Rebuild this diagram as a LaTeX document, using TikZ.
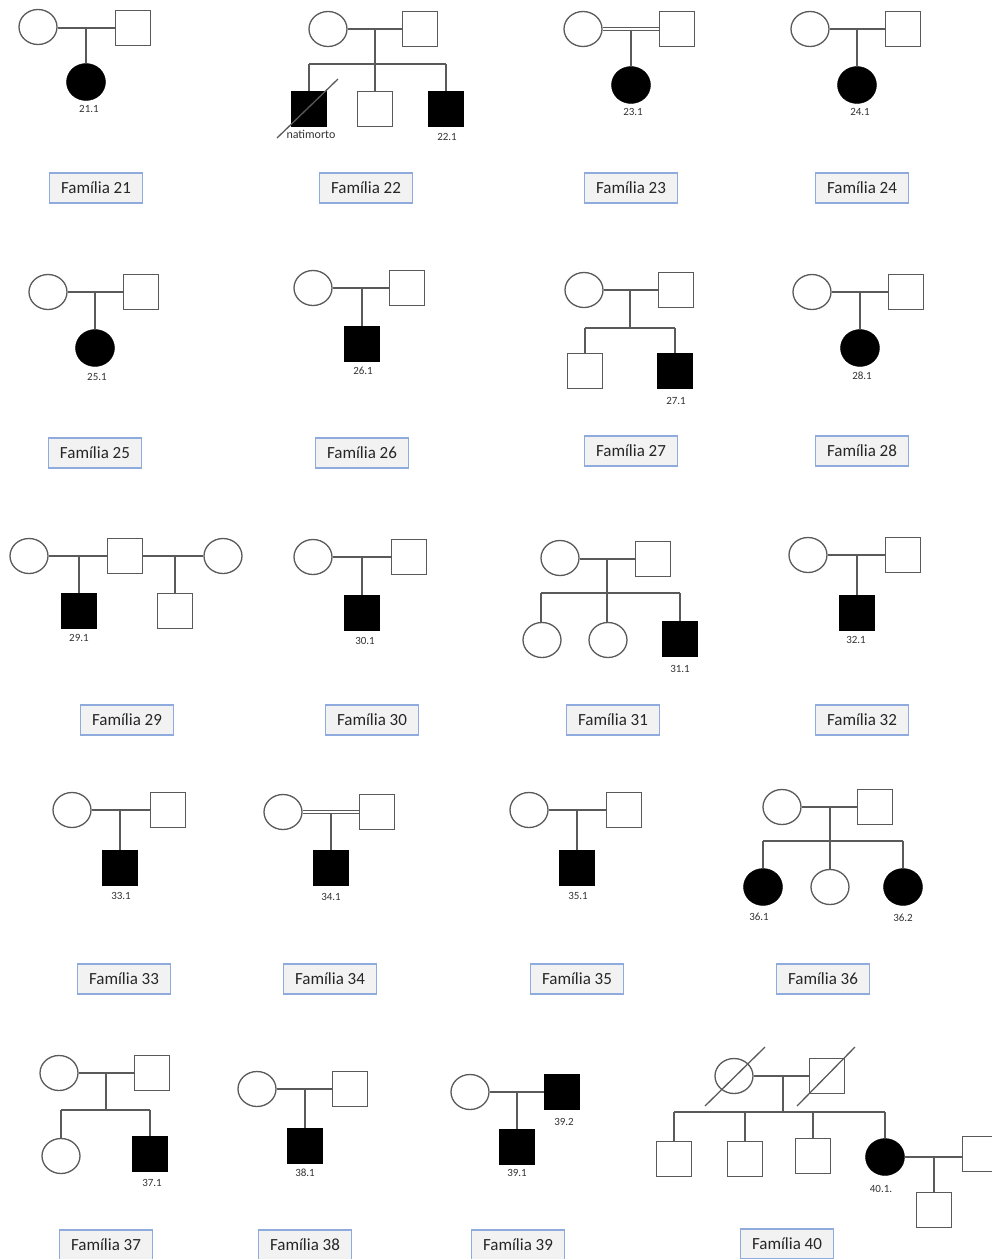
\documentclass[tikz,border=0pt]{standalone}
\usepackage{fontspec}
\setmainfont{Carlito}
\usetikzlibrary{shapes.geometric}
\definecolor{ln}{HTML}{5A5A5A}
\definecolor{bxb}{HTML}{8FAADC}
\definecolor{bxf}{HTML}{F2F2F2}
\begin{document}
\begin{tikzpicture}[x=1pt,y=-1pt,
 fem/.style={ellipse,draw=ln,line width=1.3pt,fill=white,minimum width=38pt,minimum height=35pt,inner sep=0pt},
 femA/.style={ellipse,draw=black,fill=black,minimum width=39pt,minimum height=37pt,inner sep=0pt},
 mal/.style={rectangle,draw=ln,line width=1.3pt,fill=white,minimum size=35pt,inner sep=0pt},
 malA/.style={rectangle,draw=black,fill=black,minimum size=35pt,inner sep=0pt},
 kin/.style={draw=ln,line width=1.3pt},
 kin2/.style={draw=ln,line width=1pt},
 num/.style={font=\fontsize{11}{12}\selectfont,text=black!80,inner sep=0pt},
 fam/.style={draw=bxb,line width=1.2pt,fill=bxf,minimum width=93pt,minimum height=30pt,inner sep=0pt,font=\fontsize{17}{20}\selectfont,text=black!85},
]
\clip (0,0) rectangle (992,1259);
\fill[white] (0,0) rectangle (992,1259);

% ---------- Familia 21
\node[fem] (f21a) at (38,27) {};
\node[mal] (f21b) at (133,28) {};
\coordinate (m21) at (86,28);
\node[femA] (f21c) at (86,82) {};
\node[num] (n21) at (89,109) {21.1};
\node[fam] (b21) at (96,188) {Família 21};
\draw[kin] (f21a.east |- f21b) -- (f21b);
\draw[kin] (m21) -- (f21c);

% ---------- Familia 22
\node[fem] (f22a) at (328,29) {};
\node[mal] (f22b) at (420,29) {};
\coordinate (m22) at (375,29);
\coordinate (s22) at (375,64);
\coordinate (s22l) at (309,64);
\coordinate (s22r) at (446,64);
\node[malA] (f22c) at (309,109) {};
\node[mal] (f22d) at (375,109) {};
\node[malA] (f22e) at (446,109) {};
\node[num,font=\fontsize{12}{13}\selectfont] (n22a) at (311,134) {natimorto};
\node[num] (n22b) at (447,137) {22.1};
\node[fam] (b22) at (366,188) {Família 22};
\draw[kin] (f22a) -- (f22b);
\draw[kin] (m22) -- (s22);
\draw[kin] (s22l) -- (s22r);
\draw[kin] (s22l) -- (f22c);
\draw[kin] (s22) -- (f22d);
\draw[kin] (s22r) -- (f22e);
\draw[kin] ([xshift=-32pt,yshift=-29pt]f22c.center) -- ([xshift=29pt,yshift=30pt]f22c.center);

% ---------- Familia 23
\node[fem] (f23a) at (583,29) {};
\node[mal] (f23b) at (677,29) {};
\coordinate (m23) at (631,30.7);
\node[femA] (f23c) at (631,85) {};
\node[num] (n23) at (633,112) {23.1};
\node[fam] (b23) at (631,188) {Família 23};
\draw[kin2] ([yshift=1.7pt]f23a.east) -- ([yshift=1.7pt]f23b.west);
\draw[kin2] ([yshift=-1.7pt]f23a.east) -- ([yshift=-1.7pt]f23b.west);
\draw[kin] (m23) -- (f23c);

% ---------- Familia 24
\node[fem] (f24a) at (810,29) {};
\node[mal] (f24b) at (903,29) {};
\coordinate (m24) at (857,29);
\node[femA] (f24c) at (857,85) {};
\node[num] (n24) at (860,112) {24.1};
\node[fam] (b24) at (862,188) {Família 24};
\draw[kin] (f24a) -- (f24b);
\draw[kin] (m24) -- (f24c);

% ---------- Familia 25
\node[fem] (f25a) at (48,292) {};
\node[mal] (f25b) at (141,292) {};
\coordinate (m25) at (95,292);
\node[femA] (f25c) at (95,348) {};
\node[num] (n25) at (97,377) {25.1};
\node[fam] (b25) at (95,453) {Família 25};
\draw[kin] (f25a) -- (f25b);
\draw[kin] (m25) -- (f25c);

% ---------- Familia 26
\node[fem] (f26a) at (313,288) {};
\node[mal] (f26b) at (407,288) {};
\coordinate (m26) at (362,288);
\node[malA] (f26c) at (362,344) {};
\node[num] (n26) at (363,371) {26.1};
\node[fam] (b26) at (362,453) {Família 26};
\draw[kin] (f26a) -- (f26b);
\draw[kin] (m26) -- (f26c);

% ---------- Familia 27
\node[fem] (f27a) at (584,290) {};
\node[mal] (f27b) at (676,290) {};
\coordinate (m27) at (630,290);
\coordinate (s27) at (630,328);
\coordinate (s27l) at (585,328);
\coordinate (s27r) at (675,328);
\node[mal] (f27c) at (585,371) {};
\node[malA] (f27d) at (675,371) {};
\node[num] (n27) at (676,401) {27.1};
\node[fam] (b27) at (631,451) {Família 27};
\draw[kin] (f27a) -- (f27b);
\draw[kin] (m27) -- (s27);
\draw[kin] (s27l) -- (s27r);
\draw[kin] (s27l) -- (f27c);
\draw[kin] (s27r) -- (f27d);

% ---------- Familia 28
\node[fem] (f28a) at (812,292) {};
\node[mal] (f28b) at (906,292) {};
\coordinate (m28) at (860,292);
\node[femA] (f28c) at (860,348) {};
\node[num] (n28) at (862,376) {28.1};
\node[fam] (b28) at (862,451) {Família 28};
\draw[kin] (f28a) -- (f28b);
\draw[kin] (m28) -- (f28c);

% ---------- Familia 29
\node[fem] (f29a) at (29,556) {};
\node[mal] (f29b) at (125,556) {};
\node[fem] (f29c) at (223,556) {};
\coordinate (m29a) at (79,556);
\coordinate (m29b) at (175,556);
\node[malA] (f29d) at (79,611) {};
\node[mal] (f29e) at (175,611) {};
\node[num] (n29) at (79,638) {29.1};
\node[fam] (b29) at (127,720) {Família 29};
\draw[kin] (f29a) -- (f29b);
\draw[kin] (f29b) -- (f29c);
\draw[kin] (m29a) -- (f29d);
\draw[kin] (m29b) -- (f29e);

% ---------- Familia 30
\node[fem] (f30a) at (313,557) {};
\node[mal] (f30b) at (409,557) {};
\coordinate (m30) at (362,557);
\node[malA] (f30c) at (362,613) {};
\node[num] (n30) at (365,641) {30.1};
\node[fam] (b30) at (372,720) {Família 30};
\draw[kin] (f30a) -- (f30b);
\draw[kin] (m30) -- (f30c);

% ---------- Familia 31
\node[fem] (f31a) at (560,558) {};
\node[mal] (f31b) at (653,559) {};
\coordinate (m31) at (607,559);
\coordinate (s31) at (607,593);
\coordinate (s31l) at (541,593);
\coordinate (s31r) at (680,593);
\node[fem] (f31c) at (542,640) {};
\node[fem] (f31d) at (608,640) {};
\node[malA] (f31e) at (680,639) {};
\node[num] (n31) at (680,669) {31.1};
\node[fam] (b31) at (613,720) {Família 31};
\draw[kin] (f31a.east |- f31b) -- (f31b);
\draw[kin] (m31) -- (s31);
\draw[kin] (s31l) -- (s31r);
\draw[kin] (s31l) -- (s31l |- f31c.north);
\draw[kin] (s31) -- (s31 |- f31d.north);
\draw[kin] (s31r) -- (f31e);

% ---------- Familia 32
\node[fem] (f32a) at (808,555) {};
\node[mal] (f32b) at (903,555) {};
\coordinate (m32) at (857,555);
\node[malA] (f32c) at (857,613) {};
\node[num] (n32) at (856,640) {32.1};
\node[fam] (b32) at (862,720) {Família 32};
\draw[kin] (f32a) -- (f32b);
\draw[kin] (m32) -- (f32c);

% ---------- Familia 33
\node[fem] (f33a) at (72,810) {};
\node[mal] (f33b) at (168,810) {};
\coordinate (m33) at (120,810);
\node[malA] (f33c) at (120,868) {};
\node[num] (n33) at (121,896) {33.1};
\node[fam] (b33) at (124,979) {Família 33};
\draw[kin] (f33a) -- (f33b);
\draw[kin] (m33) -- (f33c);

% ---------- Familia 34
\node[fem] (f34a) at (283,812) {};
\node[mal] (f34b) at (377,812) {};
\coordinate (m34) at (331,813.7);
\node[malA] (f34c) at (331,868) {};
\node[num] (n34) at (331,897) {34.1};
\node[fam] (b34) at (330,979) {Família 34};
\draw[kin2] ([yshift=1.7pt]f34a.east) -- ([yshift=1.7pt]f34b.west);
\draw[kin2] ([yshift=-1.7pt]f34a.east) -- ([yshift=-1.7pt]f34b.west);
\draw[kin] (m34) -- (f34c);

% ---------- Familia 35
\node[fem] (f35a) at (529,810) {};
\node[mal] (f35b) at (624,810) {};
\coordinate (m35) at (577,810);
\node[malA] (f35c) at (577,868) {};
\node[num] (n35) at (578,896) {35.1};
\node[fam] (b35) at (577,979) {Família 35};
\draw[kin] (f35a) -- (f35b);
\draw[kin] (m35) -- (f35c);

% ---------- Familia 36
\node[fem] (f36a) at (782,807) {};
\node[mal] (f36b) at (875,807) {};
\coordinate (m36) at (830,807);
\coordinate (s36) at (830,841);
\coordinate (s36l) at (763,841);
\coordinate (s36r) at (903,841);
\node[femA] (f36c) at (763,887) {};
\node[fem] (f36d) at (830,887) {};
\node[femA] (f36e) at (903,887) {};
\node[num] (n36a) at (759,917) {36.1};
\node[num] (n36b) at (903,918) {36.2};
\node[fam] (b36) at (823,979) {Família 36};
\draw[kin] (f36a) -- (f36b);
\draw[kin] (m36) -- (s36);
\draw[kin] (s36l) -- (s36r);
\draw[kin] (s36l) -- (f36c);
\draw[kin] (s36) -- (f36d);
\draw[kin] (s36r) -- (f36e);

% ---------- Familia 37
\node[fem] (f37a) at (59,1073) {};
\node[mal] (f37b) at (152,1073) {};
\coordinate (m37) at (106,1073);
\coordinate (s37) at (106,1110);
\coordinate (s37l) at (61,1110);
\coordinate (s37r) at (150,1110);
\node[fem] (f37c) at (61,1156) {};
\node[malA] (f37d) at (150,1154) {};
\node[num] (n37) at (152,1183) {37.1};
\node[fam] (b37) at (106,1245) {Família 37};
\draw[kin] (f37a) -- (f37b);
\draw[kin] (m37) -- (s37);
\draw[kin] (s37l) -- (s37r);
\draw[kin] (s37l) -- (f37c);
\draw[kin] (s37r) -- (f37d);

% ---------- Familia 38
\node[fem] (f38a) at (257,1089) {};
\node[mal] (f38b) at (350,1089) {};
\coordinate (m38) at (305,1089);
\node[malA] (f38c) at (305,1146) {};
\node[num] (n38) at (305,1173) {38.1};
\node[fam] (b38) at (305,1245) {Família 38};
\draw[kin] (f38a) -- (f38b);
\draw[kin] (m38) -- (f38c);

% ---------- Familia 39
\node[fem] (f39a) at (470,1092) {};
\node[malA] (f39b) at (562,1092) {};
\coordinate (m39) at (517,1092);
\node[malA] (f39c) at (517,1147) {};
\node[num] (n39b) at (564,1122) {39.2};
\node[num] (n39a) at (517,1173) {39.1};
\node[fam] (b39) at (518,1245) {Família 39};
\draw[kin] (f39a) -- (f39b);
\draw[kin] (m39) -- (f39c);

% ---------- Familia 40
\node[fem] (f40a) at (734,1076) {};
\node[mal] (f40b) at (827,1076) {};
\coordinate (m40) at (783,1076);
\coordinate (s40) at (783,1112);
\coordinate (s40l) at (674,1112);
\coordinate (s40b) at (745,1112);
\coordinate (s40c) at (813,1112);
\coordinate (s40r) at (885,1112);
\node[mal] (f40c) at (674,1159) {};
\node[mal] (f40d) at (745,1159) {};
\node[mal] (f40e) at (813,1156) {};
\node[femA] (f40f) at (885,1157) {};
\node[mal] (f40g) at (980,1154) {};
\coordinate (m40b) at (934,1157);
\node[mal] (f40h) at (934,1210) {};
\node[num] (n40) at (881,1189) {40.1.};
\node[fam] (b40) at (787,1244) {Família 40};
\draw[kin] (f40a) -- (f40b);
\draw[kin] (m40) -- (s40);
\draw[kin] (s40l) -- (s40r);
\draw[kin] (s40l) -- (f40c);
\draw[kin] (s40b) -- (f40d);
\draw[kin] (s40c) -- (f40e);
\draw[kin] (s40r) -- (f40f);
\draw[kin] (f40f.east) -- (f40f.east -| f40g.west);
\draw[kin] (m40b) -- (f40h);
\draw[kin] ([xshift=-29pt,yshift=-30pt]f40a.center) -- ([xshift=31pt,yshift=29pt]f40a.center);
\draw[kin] ([xshift=-30pt,yshift=-30pt]f40b.center) -- ([xshift=28pt,yshift=29pt]f40b.center);
\end{tikzpicture}
\end{document}
